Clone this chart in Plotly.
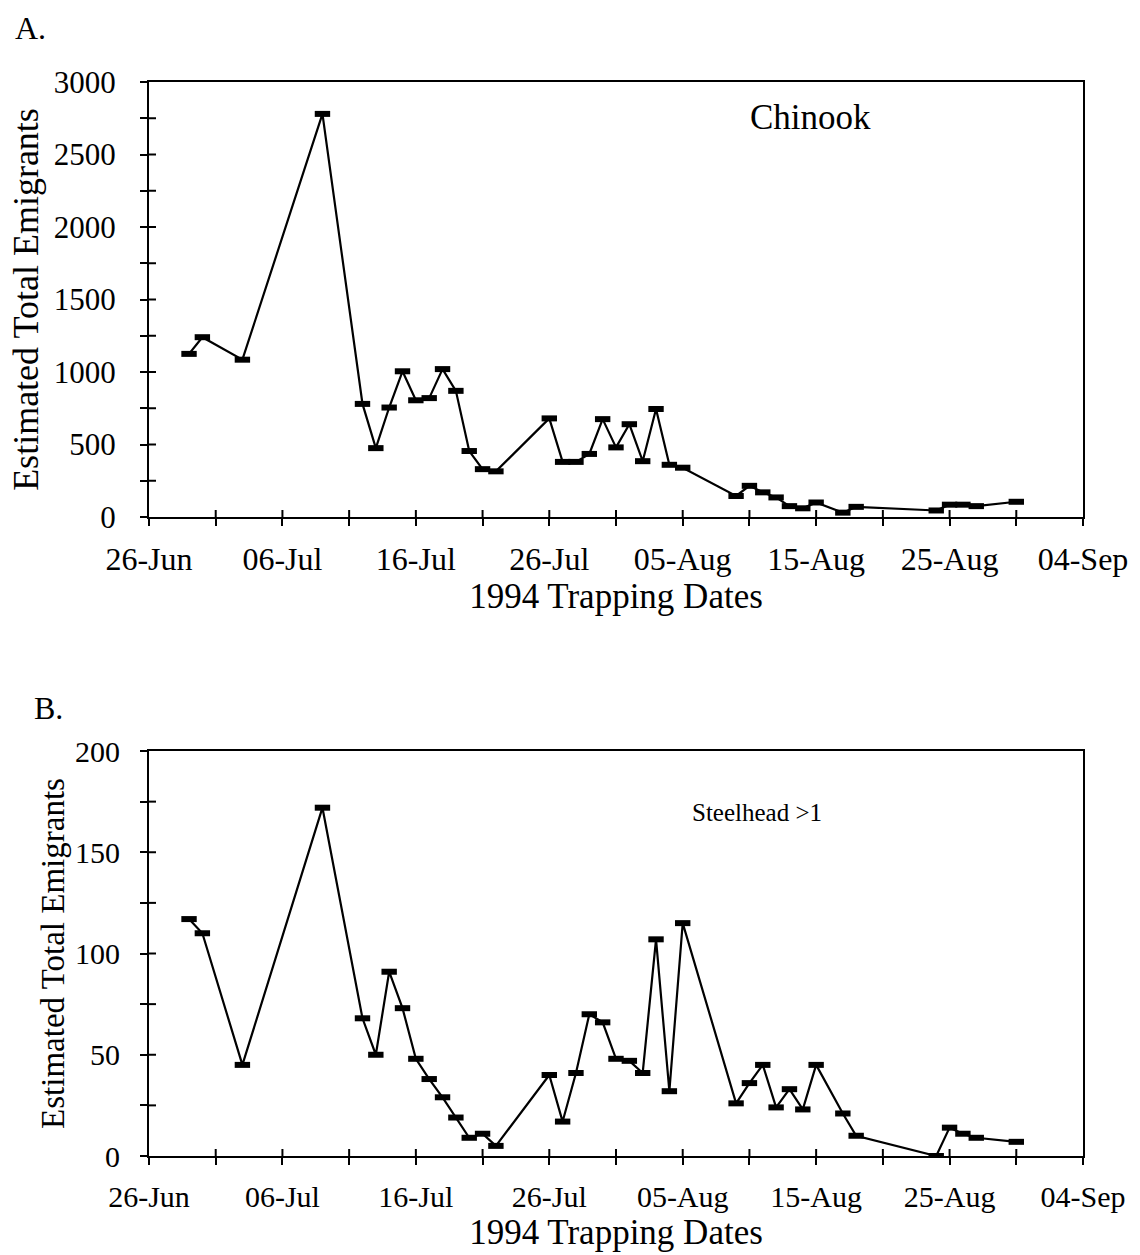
import pandas as pd
import plotly.graph_objects as go

# 1994 trapping dates (shared by both panels)
dates = [
    "1994-06-29", "1994-06-30", "1994-07-03", "1994-07-09", "1994-07-12",
    "1994-07-13", "1994-07-14", "1994-07-15", "1994-07-16", "1994-07-17",
    "1994-07-18", "1994-07-19", "1994-07-20", "1994-07-21", "1994-07-22",
    "1994-07-26", "1994-07-27", "1994-07-28", "1994-07-29", "1994-07-30",
    "1994-07-31", "1994-08-01", "1994-08-02", "1994-08-03", "1994-08-04",
    "1994-08-05", "1994-08-09", "1994-08-10", "1994-08-11", "1994-08-12",
    "1994-08-13", "1994-08-14", "1994-08-15", "1994-08-17", "1994-08-18",
    "1994-08-24", "1994-08-25", "1994-08-26", "1994-08-27", "1994-08-30",
]

# Estimated total emigrants
chinook = [1125, 1240, 1085, 2780, 780, 475, 755, 1005, 805, 820,
           1020, 870, 455, 330, 315, 680, 380, 380, 435, 675,
           480, 640, 385, 745, 360, 340, 145, 215, 170, 135,
           75, 60, 100, 30, 70, 45, 85, 85, 75, 105]
steelhead = [117, 110, 45, 172, 68, 50, 91, 73, 48, 38,
             29, 19, 9, 11, 5, 40, 17, 41, 70, 66,
             48, 47, 41, 107, 32, 115, 26, 36, 45, 24,
             33, 23, 45, 21, 10, 0, 14, 11, 9, 7]

x_range = ["1994-06-26", "1994-09-04"]
day_ms = 86400000
serif = "Liberation Serif, Times New Roman, serif"

# Plot area in pixels: x 149..1083, panel A y 82..517, panel B y 751..1156
W, H = 1140, 1255
L, R, T, B = 149, 57, 82, 99
ph = H - T - B
pw = W - L - R
domA = [1 - (517 - T) / ph, 1]
domB = [0, (1156 - 751) / ph]


def px_x(p):
    return (p - L) / pw


def px_y(p):
    return (H - B - p) / ph


fig = go.Figure()

line_style = dict(color="black", width=2.2)
marker_style = dict(symbol="line-ew", size=11, color="black",
                    line=dict(color="black", width=6))

fig.add_trace(go.Scatter(x=dates, y=chinook, mode="lines+markers",
                         line=line_style, marker=marker_style,
                         xaxis="x", yaxis="y", showlegend=False))
fig.add_trace(go.Scatter(x=dates, y=steelhead, mode="lines+markers",
                         line=line_style, marker=marker_style,
                         xaxis="x2", yaxis="y2", showlegend=False))

title_font = dict(family=serif, size=35, color="black")
TICK = dict(tickwidth=2, tickcolor="black")


def x_axis(anchor, tsize=32):
    return dict(
        type="date", range=x_range, anchor=anchor, domain=[0, 1],
        tick0="1994-06-26", dtick=10 * day_ms, tickformat="%d-%b",
        ticks="outside", ticklen=7, **TICK,
        minor=dict(dtick=5 * day_ms, tick0="1994-06-26", ticks="outside",
                   ticklen=7, **TICK),
        showgrid=False, zeroline=False,
        showline=True, linecolor="black", linewidth=2, mirror=True,
        tickfont=dict(family=serif, size=tsize, color="black"),
        ticklabelstandoff=6,
        title=dict(text="1994 Trapping Dates", font=title_font, standoff=2),
    )


def y_axis(dom, anchor, top, dt, standoff=18, tsize=36, ksize=31, tstand=4):
    return dict(
        range=[0, top], domain=dom, anchor=anchor, dtick=dt,
        ticks="outside", ticklen=7, **TICK,
        minor=dict(dtick=dt / 2, ticks="outside", ticklen=7, **TICK),
        showgrid=False, zeroline=False,
        showline=True, linecolor="black", linewidth=2, mirror=True,
        tickfont=dict(family=serif, size=ksize, color="black"),
        ticklabelstandoff=standoff,
        title=dict(text="Estimated Total Emigrants",
                   font=dict(family=serif, size=tsize, color="black"),
                   standoff=tstand),
    )


fig.update_layout(
    width=W, height=H,
    margin=dict(l=L, r=R, t=T, b=B, autoexpand=False),
    paper_bgcolor="white", plot_bgcolor="white",
    xaxis=x_axis("y"),
    yaxis=y_axis(domA, "x", 3000, 500),
    xaxis2=x_axis("y2", tsize=30),
    yaxis2=y_axis(domB, "x2", 200, 50, standoff=14, tsize=33, ksize=30, tstand=0),
)

# inner halves of the crossing tick marks
INNER = 7
tick_line = dict(color="black", width=2)
x_tick_dates = pd.date_range("1994-07-01", "1994-08-30", freq="5D")
for xr, yr, hpx, top, step in (("x", "y", 517 - T, 3000, 250),
                               ("x2", "y2", 1156 - 751, 200, 25)):
    for d in x_tick_dates:
        fig.add_shape(type="line", xref=xr, yref=f"{yr} domain", layer="above",
                      x0=d, x1=d, y0=0, y1=INNER / hpx, line=tick_line)
    for v in range(step, top, step):
        fig.add_shape(type="line", xref=f"{xr} domain", yref=yr, layer="above",
                      x0=0, x1=INNER / pw, y0=v, y1=v, line=tick_line)


def label(text, cx, cy, size):
    fig.add_annotation(text=text, x=px_x(cx), y=px_y(cy), xref="paper", yref="paper",
                       xanchor="center", yanchor="middle", showarrow=False,
                       font=dict(family=serif, size=size, color="black"))


label("A.", 30, 28, 32)
label("B.", 48, 708, 32)
label("Chinook", 810, 118, 35)
label("Steelhead >1", 757, 812, 25)

fig.write_html("out.html")
